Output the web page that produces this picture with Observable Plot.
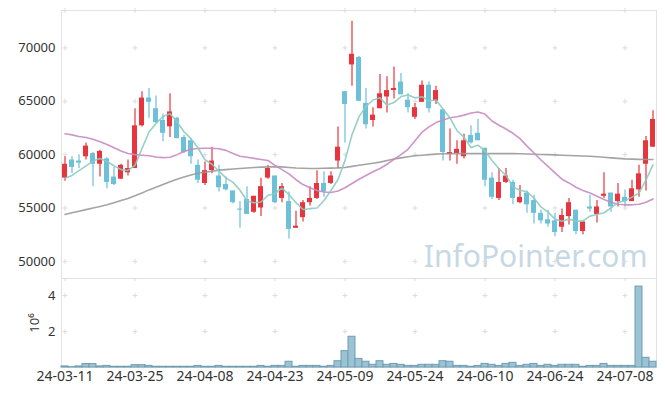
<!DOCTYPE html>
<html><head><meta charset="utf-8">
<script src="https://cdn.jsdelivr.net/npm/d3@7"></script>
<script src="https://cdn.jsdelivr.net/npm/@observablehq/plot@0.6"></script>
<style>
body{margin:0;background:#fff;}
#chart{width:665px;height:396px;}
#chart svg{display:block;}
</style></head><body><div id="chart"></div>
<script>
const dates = ["24-03-11","24-03-12","24-03-13","24-03-14","24-03-15","24-03-18","24-03-19","24-03-20","24-03-21","24-03-22",
"24-03-25","24-03-26","24-03-27","24-03-28","24-03-29","24-04-01","24-04-02","24-04-03","24-04-04","24-04-05",
"24-04-08","24-04-09","24-04-11","24-04-12","24-04-15","24-04-16","24-04-17","24-04-18","24-04-19","24-04-22",
"24-04-23","24-04-24","24-04-25","24-04-26","24-04-29","24-04-30","24-05-02","24-05-03","24-05-07","24-05-08",
"24-05-09","24-05-10","24-05-13","24-05-14","24-05-16","24-05-17","24-05-20","24-05-21","24-05-22","24-05-23",
"24-05-24","24-05-27","24-05-28","24-05-29","24-05-30","24-05-31","24-06-03","24-06-04","24-06-05","24-06-07",
"24-06-10","24-06-11","24-06-12","24-06-13","24-06-14","24-06-17","24-06-18","24-06-19","24-06-20","24-06-21",
"24-06-24","24-06-25","24-06-26","24-06-27","24-06-28","24-07-01","24-07-02","24-07-03","24-07-04","24-07-05",
"24-07-08","24-07-09","24-07-10","24-07-11","24-07-12"];

const open = [57800,59500,59400,59800,60100,59100,59600,57900,57700,58300,
58700,62700,65300,64300,63200,62600,63400,61600,61300,59000,
57300,58500,58000,57200,56600,54900,55800,54600,55000,57800,
58000,55900,55600,53100,54100,55500,55900,57300,57300,59400,
65900,68400,69100,64800,63200,64300,65400,66000,66800,65100,
63500,64900,66500,65000,64200,60000,60100,59800,61800,62000,
60600,57800,55900,57400,57400,55500,56400,55700,54500,53900,
53800,53200,54200,54800,52800,55100,54400,56100,56400,55600,
56000,55600,56700,59100,60700];

const high = [59800,59800,60000,61100,60200,60400,59700,58800,59100,59500,
64300,65900,66200,65500,63800,65700,63500,61800,61500,59500,
59300,60700,59000,57900,56600,55600,57000,56100,57800,59000,
58000,57300,56500,54700,55700,57000,58500,58400,58400,62600,
65900,72500,69200,66200,64400,67500,67300,68200,67600,65700,
64800,66900,66800,66400,64200,62400,61300,61900,62700,63300,
60600,58300,58700,58700,57600,57100,56600,56200,54800,54800,
54500,54900,55900,54800,53700,56200,55700,58300,56400,57300,
56700,57600,59000,61700,64100];

const low = [57500,58200,58700,59500,57000,57900,56800,57100,57700,58000,
58700,62600,63400,62900,61200,61600,61500,60100,59100,57300,
57100,58200,56500,56600,55400,53100,54400,54500,54200,57700,
55400,55500,52100,53100,53700,55200,55800,56000,57200,58700,
61100,66400,65000,62400,62600,64300,63900,65200,65600,63900,
63300,64900,63900,64700,59400,59400,59100,59600,61000,61300,
57000,55800,55700,57300,55300,55400,54500,53500,53500,53200,
52300,52700,53400,52500,52500,54600,53600,55900,54600,55100,
55100,55600,56000,56600,60700];

const close = [59100,58800,59200,60800,59100,60300,57400,57200,59000,58700,
62700,65300,64900,63000,62000,64000,61500,60200,59800,57600,
58500,59400,56900,56700,55500,54800,54400,56100,57000,58700,
55500,57000,53000,53300,55500,55900,57300,56500,58000,60700,
64700,69400,65000,62800,63700,65700,66000,66200,65600,64400,
64400,66500,64300,66000,60200,60200,60500,61300,61100,61300,
57600,56000,57400,58000,55900,56000,55300,54500,53800,53500,
52700,54300,55500,52800,53700,54900,55100,56300,55100,56300,
55600,56800,58200,61300,63300];

const volume = [60000,20000,60000,190000,190000,60000,90000,40000,40000,40000,
130000,130000,90000,40000,40000,40000,40000,40000,40000,90000,
40000,40000,90000,40000,40000,40000,40000,40000,90000,40000,
90000,90000,320000,40000,90000,90000,90000,40000,90000,350000,
910000,1710000,480000,320000,150000,350000,150000,200000,150000,90000,
90000,150000,150000,150000,350000,320000,90000,90000,40000,90000,
200000,150000,90000,200000,260000,90000,150000,200000,90000,150000,
90000,150000,150000,150000,40000,90000,90000,200000,90000,90000,
90000,90000,4500000,540000,320000];

const ma5 = [57800,58050,58500,58950,59400,59640,59360,58960,58600,58520,
59000,60580,62120,62920,63580,63840,63080,62140,61500,60620,
59520,59100,58440,57820,57400,56660,55660,55500,55560,56200,
56340,56860,56240,55500,54860,54940,55000,55700,56640,57680,
59440,61860,63560,64520,65120,65320,64640,64880,65440,65580,
65320,65420,65040,65120,64280,63440,62240,61640,60660,60880,
60360,59460,58680,58060,56980,56660,56520,55940,55100,54620,
53960,53760,53960,53760,53800,54240,54400,54560,55020,55540,
55680,56020,56400,57640,59040];

const ma20 = [61950,61850,61700,61600,61450,61200,60950,60650,60350,60100,
60000,59950,59900,59780,59720,59750,60000,60300,60500,60580,
60600,60600,60550,60400,60100,59850,59750,59650,59550,59450,
59000,58600,58200,57650,57200,56900,56650,56500,56450,56600,
56900,57300,57700,58050,58400,58700,59100,59550,60000,60500,
61300,62100,62600,63000,63250,63450,63550,63700,63900,64000,
63800,63150,62750,62400,62000,61500,60800,60150,59500,58900,
58300,57700,57350,56950,56650,56400,56100,55800,55550,55350,
55300,55300,55350,55550,55850];

const ma60 = [54400,54550,54700,54850,55000,55150,55300,55500,55700,55900,
56150,56400,56700,56950,57200,57450,57700,57900,58100,58250,
58350,58450,58550,58600,58650,58700,58750,58800,58830,58850,
58880,58850,58800,58750,58720,58700,58700,58720,58740,58760,
58800,58900,59000,59100,59200,59300,59450,59600,59700,59800,
59900,59950,60000,60050,60080,60100,60100,60100,60100,60100,
60100,60100,60100,60100,60100,60080,60060,60040,60020,60000,
59980,59950,59920,59900,59880,59850,59800,59750,59700,59650,
59600,59580,59560,59550,59550];

const xTickLabels = ["24-03-11","24-03-25","24-04-08","24-04-23","24-05-09","24-05-24","24-06-10","24-06-24","24-07-08"];
const priceTicks = [50000,55000,60000,65000,70000];
const volumeTicks = [2000000,4000000];
const priceDomain = [48400,73500];
const volumeDomain = [0,4950000];

const rows = dates.map((d,i)=>({date:d, open:open[i], high:high[i], low:low[i], close:close[i],
  volume:volume[i], ma5:ma5[i], ma20:ma20[i], ma60:ma60[i]}));
const up = rows.filter(r=>r.close>=r.open);
const down = rows.filter(r=>r.close<r.open);

const RED="#e8343c", BLUE="#6cc0d8", TEAL="#8ccbc1", PINK="#c98ac2", GRAY="#9a9a9a";
const FONT="'Noto Sans', sans-serif";
const W=665, ML=61, MR=9;
const plus = {draw(ctx,size){const r=Math.sqrt(size)/2;ctx.moveTo(-r,0);ctx.lineTo(r,0);ctx.moveTo(0,-r);ctx.lineTo(0,r);}};
const priceGrid = xTickLabels.flatMap(x=>[...priceTicks, priceDomain[1]].map(y=>({x,y})));
const volGrid = xTickLabels.flatMap(x=>[...volumeTicks, volumeDomain[1]].map(y=>({x,y})));

const price = Plot.plot({
  width: W, height: 278, marginTop: 10, marginBottom: 0, marginLeft: ML, marginRight: MR,
  style: {fontFamily: FONT, fontSize: "13px", color: "#333", background: "#fff"},
  x: {type: "band", domain: dates, padding: 0, axis: null},
  y: {domain: priceDomain, ticks: priceTicks, tickFormat: d=>String(d), tickSize: 0, tickPadding: 6, label: null},
  marks: [
    Plot.frame({stroke: "#e3e3e3"}),
    Plot.text(["InfoPointer.com"], {text: d=>d, frameAnchor: "bottom-right", textAnchor: "end", lineAnchor: "bottom",
      dx: -9, dy: -12, fontSize: 30, fill: "#c6d8e4", fontFamily: FONT}),
    Plot.dot(priceGrid, {x: "x", y: "y", symbol: plus, r: 2.8, stroke: "#dcdcdc", fill: "none", strokeWidth: 1}),
    Plot.ruleX(up, {x: "date", y1: "low", y2: "high", stroke: RED, strokeWidth: 1.2}),
    Plot.ruleX(down, {x: "date", y1: "low", y2: "high", stroke: BLUE, strokeWidth: 1.2}),
    Plot.barY(up, {x: "date", y1: "open", y2: "close", fill: RED, insetLeft: 1, insetRight: 1}),
    Plot.barY(down, {x: "date", y1: "open", y2: "close", fill: BLUE, insetLeft: 1, insetRight: 1}),
    Plot.lineY(rows, {x: "date", y: "ma60", stroke: GRAY, strokeWidth: 1.6, strokeOpacity: 0.9}),
    Plot.lineY(rows, {x: "date", y: "ma20", stroke: PINK, strokeWidth: 1.6, strokeOpacity: 0.9}),
    Plot.lineY(rows, {x: "date", y: "ma5", stroke: TEAL, strokeWidth: 1.6, strokeOpacity: 0.9})
  ]
});

const vol = Plot.plot({
  width: W, height: 118, marginTop: 0, marginBottom: 29, marginLeft: ML, marginRight: MR,
  style: {fontFamily: FONT, fontSize: "13px", color: "#333", background: "#fff"},
  x: {type: "band", domain: dates, padding: 0, axis: null},
  y: {domain: volumeDomain, ticks: volumeTicks, tickFormat: d=>String(d/1e6), tickSize: 0, tickPadding: 6,
      label: "10⁶", labelAnchor: "center", labelArrow: "none", labelOffset: 32},
  marks: [
    Plot.frame({stroke: "#e3e3e3"}),
    Plot.axisX({ticks: xTickLabels, tickSize: 0, tickPadding: 4, label: null, fontSize: 14}),
    Plot.dot(volGrid, {x: "x", y: "y", symbol: plus, r: 2.8, stroke: "#dcdcdc", fill: "none", strokeWidth: 1}),
    Plot.barY(rows, {x: "date", y: "volume", fill: "#9cc3d4", stroke: "#6e9db3", strokeWidth: 1})
  ]
});

const root = document.getElementById("chart");
root.appendChild(price);
root.appendChild(vol);
</script></body></html>
